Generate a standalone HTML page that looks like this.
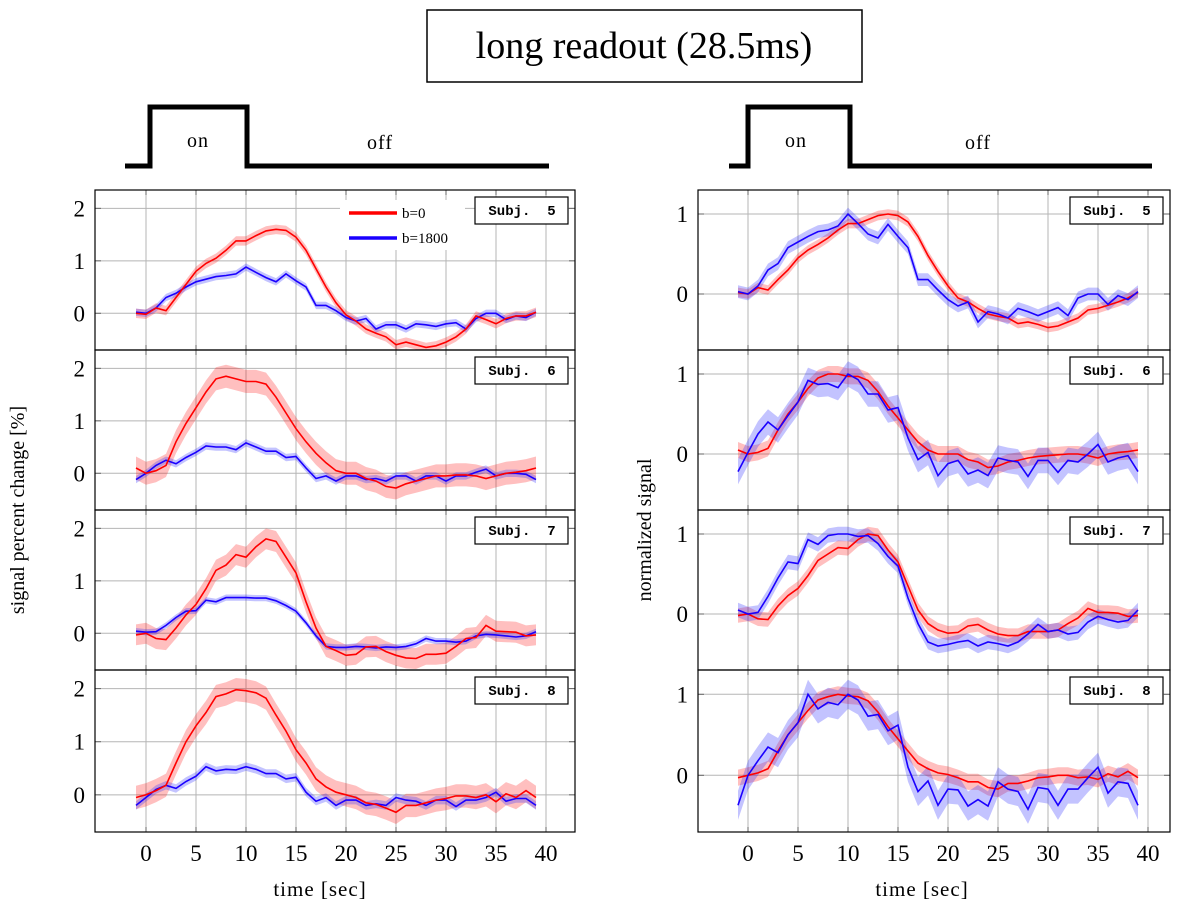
<!DOCTYPE html>
<html><head><meta charset="utf-8">
<style>
body{margin:0;background:#fff;width:1186px;height:905px;overflow:hidden;}
svg{display:block;font-family:"Liberation Serif",serif;}
</style></head>
<body>
<svg id="chart" width="1186" height="905" viewBox="0 0 1186 905">
<g>
<rect x="427" y="10" width="435" height="72" fill="#fff" stroke="#000" stroke-width="1.5"/>
<text x="644" y="58" font-size="38" text-anchor="middle">long readout (28.5ms)</text>
</g>
<g>
<polyline points="125,166 150,166 150,107 247,107 247,166 549,166" fill="none" stroke="#000" stroke-width="5"/>
<text x="198" y="147" font-size="20" text-anchor="middle" letter-spacing="1">on</text>
<text x="380" y="149" font-size="20" text-anchor="middle" letter-spacing="1">off</text>
</g>
<g>
<polyline points="729,166 748,166 748,107 850,107 850,166 1152,166" fill="none" stroke="#000" stroke-width="5"/>
<text x="796" y="147" font-size="20" text-anchor="middle" letter-spacing="1">on</text>
<text x="978" y="149" font-size="20" text-anchor="middle" letter-spacing="1">off</text>
</g>
<text transform="translate(24,510) rotate(-90)" font-size="20" text-anchor="middle">signal percent change [%]</text>
<text transform="translate(651,530) rotate(-90)" font-size="20" text-anchor="middle">normalized signal</text>
<text x="320" y="896" font-size="21" text-anchor="middle" letter-spacing="1">time [sec]</text>
<text x="922" y="896" font-size="21" text-anchor="middle" letter-spacing="1">time [sec]</text>
</svg>
<script>
const times = [];
for (let t = -1; t <= 39; t++) times.push(t);
const xTicks = [0,5,10,15,20,25,30,35,40];
const leftYTicks = [0,1,2];
const rightYTicks = [0,1];
const subjects = ["5","6","7","8"];

const L5r=[0,-0.02,0.1,0.05,0.3,0.55,0.8,0.95,1.05,1.2,1.38,1.38,1.48,1.57,1.6,1.58,1.45,1.2,0.85,0.5,0.2,-0.03,-0.15,-0.3,-0.38,-0.45,-0.6,-0.55,-0.6,-0.65,-0.62,-0.55,-0.45,-0.3,-0.05,-0.12,-0.2,-0.1,-0.05,-0.05,0.02];
const L5b=[0.02,0,0.1,0.3,0.38,0.5,0.6,0.65,0.7,0.72,0.75,0.88,0.78,0.68,0.6,0.75,0.62,0.5,0.15,0.15,0.05,-0.08,-0.15,-0.1,-0.3,-0.22,-0.22,-0.3,-0.2,-0.22,-0.25,-0.2,-0.18,-0.3,-0.1,0,0,-0.12,-0.05,-0.08,0.02];
const L6r=[0.1,0,0.05,0.15,0.6,0.95,1.25,1.55,1.8,1.85,1.8,1.75,1.75,1.7,1.45,1.15,0.85,0.6,0.38,0.2,0.05,0,0,-0.1,-0.15,-0.25,-0.28,-0.2,-0.15,-0.1,-0.05,-0.05,-0.03,-0.03,-0.05,-0.1,-0.05,0,0.02,0.05,0.1];
const L6b=[-0.12,0,0.15,0.25,0.18,0.3,0.4,0.52,0.5,0.5,0.45,0.58,0.5,0.42,0.42,0.3,0.32,0.1,-0.1,-0.05,-0.15,-0.05,-0.05,-0.12,-0.1,-0.15,-0.05,-0.05,-0.15,-0.05,-0.05,-0.15,-0.05,-0.05,0.02,0.08,-0.05,0,0,-0.02,-0.12];
const L7r=[-0.03,0,-0.1,-0.12,0.1,0.35,0.55,0.85,1.2,1.3,1.5,1.45,1.65,1.8,1.75,1.45,1.15,0.6,0.1,-0.25,-0.33,-0.42,-0.4,-0.26,-0.25,-0.35,-0.42,-0.47,-0.48,-0.4,-0.4,-0.38,-0.25,-0.1,-0.08,0.15,0.04,0.03,0.02,-0.05,-0.03];
const L7b=[0.04,0.02,0.03,0.15,0.3,0.42,0.43,0.63,0.6,0.68,0.68,0.68,0.67,0.67,0.62,0.53,0.42,0.2,-0.05,-0.25,-0.27,-0.27,-0.25,-0.26,-0.28,-0.26,-0.27,-0.25,-0.2,-0.1,-0.15,-0.15,-0.17,-0.15,-0.05,-0.02,-0.03,-0.05,-0.07,-0.05,0.03];
const L8r=[-0.05,0,0.08,0.18,0.6,1.0,1.3,1.55,1.85,1.9,1.98,1.96,1.92,1.82,1.5,1.2,0.85,0.6,0.3,0.15,0.05,0,-0.05,-0.15,-0.18,-0.25,-0.33,-0.2,-0.2,-0.15,-0.1,-0.07,-0.02,-0.02,-0.05,0,-0.13,0.02,-0.05,0.08,-0.05];
const L8b=[-0.2,-0.05,0.1,0.18,0.12,0.25,0.35,0.53,0.45,0.48,0.47,0.53,0.48,0.4,0.4,0.3,0.33,0.05,-0.12,-0.05,-0.2,-0.1,-0.1,-0.2,-0.17,-0.2,-0.05,-0.1,-0.12,-0.2,-0.1,-0.1,-0.22,-0.1,-0.1,-0.05,0.05,-0.12,-0.07,-0.07,-0.2];

const R5r=[0.02,0,0.08,0.05,0.18,0.3,0.45,0.55,0.62,0.7,0.8,0.88,0.88,0.93,0.98,1.0,0.98,0.9,0.72,0.48,0.28,0.1,-0.05,-0.1,-0.18,-0.25,-0.28,-0.3,-0.37,-0.35,-0.38,-0.42,-0.4,-0.35,-0.3,-0.2,-0.18,-0.14,-0.1,-0.05,0.02];
const R5b=[0.03,0,0.1,0.3,0.38,0.58,0.65,0.72,0.78,0.8,0.85,1.0,0.88,0.75,0.7,0.87,0.72,0.58,0.18,0.18,0.05,-0.07,-0.15,-0.1,-0.35,-0.22,-0.25,-0.3,-0.18,-0.22,-0.27,-0.22,-0.17,-0.27,-0.05,0,0,-0.13,-0.02,-0.07,0.03];
const R6r=[0.05,0,0.02,0.07,0.3,0.5,0.65,0.82,0.95,1.0,1.0,0.97,0.97,0.92,0.78,0.6,0.45,0.3,0.15,0.05,0,0,0,-0.07,-0.1,-0.17,-0.15,-0.1,-0.08,-0.05,-0.03,-0.02,-0.01,0,0,-0.02,-0.05,0,0.02,0.03,0.05];
const R6b=[-0.22,0.02,0.25,0.4,0.3,0.48,0.65,0.92,0.87,0.88,0.83,1.0,0.93,0.75,0.75,0.55,0.58,0.2,-0.07,0.02,-0.27,-0.12,-0.08,-0.25,-0.2,-0.27,-0.05,-0.08,-0.1,-0.28,-0.08,-0.08,-0.23,-0.08,-0.1,0,0.12,-0.1,-0.05,-0.02,-0.22];
const R7r=[-0.02,0,-0.06,-0.07,0.1,0.23,0.32,0.48,0.67,0.75,0.83,0.82,0.93,1.0,0.98,0.8,0.65,0.35,0.05,-0.12,-0.2,-0.24,-0.23,-0.15,-0.13,-0.2,-0.25,-0.27,-0.27,-0.22,-0.22,-0.22,-0.2,-0.12,-0.05,0.07,0.02,0.02,0.01,-0.03,-0.02];
const R7b=[0.05,0,0.02,0.22,0.45,0.65,0.63,0.93,0.87,0.98,1.0,1.0,0.97,0.98,0.88,0.72,0.6,0.2,-0.12,-0.35,-0.4,-0.38,-0.35,-0.33,-0.4,-0.35,-0.37,-0.4,-0.35,-0.25,-0.13,-0.22,-0.2,-0.25,-0.23,-0.1,-0.03,-0.07,-0.1,-0.08,0.05];
const R8r=[-0.03,0,0.03,0.08,0.3,0.5,0.65,0.8,0.93,0.97,1.0,0.98,0.97,0.92,0.78,0.6,0.45,0.3,0.15,0.08,0.03,0.01,-0.03,-0.08,-0.08,-0.15,-0.17,-0.1,-0.1,-0.07,-0.03,-0.02,0,0,-0.03,-0.02,-0.05,0.02,-0.02,0.05,-0.03];
const R8b=[-0.37,0,0.18,0.35,0.28,0.5,0.65,1.0,0.82,0.9,0.87,1.0,0.93,0.73,0.75,0.55,0.62,0.1,-0.2,-0.07,-0.37,-0.17,-0.18,-0.38,-0.3,-0.38,-0.08,-0.17,-0.2,-0.42,-0.15,-0.17,-0.37,-0.17,-0.17,-0.03,0.1,-0.22,-0.08,-0.1,-0.37];

const leftRedErr=[0.09,0.22,0.2,0.22];
const leftBlueErr=[0.07,0.07,0.06,0.08];
const rightRedErr=[0.06,0.1,0.09,0.1];
const rightBlueErr=[0.08,0.16,0.09,0.18];

const leftRed=[L5r,L6r,L7r,L8r], leftBlue=[L5b,L6b,L7b,L8b];
const rightRed=[R5r,R6r,R7r,R8r], rightBlue=[R5b,R6b,R7b,R8b];

const NS="http://www.w3.org/2000/svg";
const svg=document.getElementById('chart');
function mk(tag,attrs,parent){const e=document.createElementNS(NS,tag);for(const k in attrs)e.setAttribute(k,attrs[k]);(parent||svg).appendChild(e);return e;}
const panelTops=[190,350,510,670,832];

function drawColumn(side,x0,x1,x0px,yMin,yMax,yTicks,reds,blues,rErr,bErr){
  const xs=t=>x0px+t*10;
  for(let i=0;i<4;i++){
    const top=panelTops[i], bot=panelTops[i+1];
    const ys=v=>bot-(v-yMin)/(yMax-yMin)*(bot-top);
    const g=mk('g',{});
    
    
    const cid='clip-'+side+i;
    const cp=mk('clipPath',{id:cid},g);
    mk('rect',{x:x0,y:top,width:x1-x0,height:bot-top},cp);
    xTicks.forEach(t=>{
      const l=mk('line',{x1:xs(t),x2:xs(t),y1:top,y2:bot,stroke:'#b5b5b5','stroke-width':1},g);
      
      
      mk('line',{x1:xs(t),x2:xs(t),y1:top,y2:top+5,stroke:'#666','stroke-width':1},g);
      mk('line',{x1:xs(t),x2:xs(t),y1:bot-5,y2:bot,stroke:'#666','stroke-width':1},g);
    });
    yTicks.forEach(v=>{
      const l=mk('line',{x1:x0,x2:x1,y1:ys(v),y2:ys(v),stroke:'#b5b5b5','stroke-width':1},g);
      
      
      mk('line',{x1:x0,x2:x0+6,y1:ys(v),y2:ys(v),stroke:'#666'},g);
      mk('line',{x1:x1-6,x2:x1,y1:ys(v),y2:ys(v),stroke:'#666'},g);
      const tl=mk('text',{x:x0-10,y:ys(v)+8,'font-size':23,'text-anchor':'end'},g);
      tl.textContent=String(v);
      
      
    });
    const series=[[reds[i],rErr[i],'#ff0000','rgba(255,0,0,0.25)','red'],[blues[i],bErr[i],'#1a00ff','rgba(40,40,255,0.28)','blue']];
    const order=side==='left'?[1,0]:[0,1];
    const dg=mk('g',{'clip-path':'url(#'+cid+')'},g);
    series.forEach(([vals,err,,fill,nm])=>{
      let d='';
      vals.forEach((v,k)=>{d+=(k?'L':'M')+xs(times[k]).toFixed(1)+','+ys(v+err).toFixed(1);});
      for(let k=vals.length-1;k>=0;k--)d+='L'+xs(times[k]).toFixed(1)+','+ys(vals[k]-err).toFixed(1);
      const p=mk('path',{d:d+'Z',fill:fill,stroke:'none'},dg);
      
      
    });
    order.forEach(j=>{
      const [vals,,col,,nm]=series[j];
      const pts=vals.map((v,k)=>xs(times[k]).toFixed(1)+','+ys(v).toFixed(1)).join(' ');
      const pl=mk('polyline',{points:pts,fill:'none',stroke:col,'stroke-width':1.6},dg);
      
      
    });
    const fr=mk('rect',{x:x0,y:top,width:x1-x0,height:bot-top,fill:'none',stroke:'#000','stroke-width':1.2},g);
    
    
    const lb=mk('g',{},g);
    
    
    mk('rect',{x:x1-100,y:top+7,width:93,height:27,fill:'#fff',stroke:'#000','stroke-width':1.2},lb);
    const tx=mk('text',{x:x1-53,y:top+25,'font-size':14,'text-anchor':'middle','font-family':'Liberation Mono, monospace','font-weight':'bold'},lb);
    tx.textContent='Subj.  '+subjects[i];
    tx.setAttribute('xml:space','preserve');
    tx.style.whiteSpace='pre';
  }
  xTicks.forEach(t=>{
    const tl=mk('text',{x:xs(t),y:861,'font-size':23,'text-anchor':'middle'});
    tl.textContent=String(t);
    
    
  });
}
drawColumn('left',95,575,146,-0.7,2.35,leftYTicks,leftRed,leftBlue,leftRedErr,leftBlueErr);
drawColumn('right',698,1170,748,-0.7,1.3,rightYTicks,rightRed,rightBlue,rightRedErr,rightBlueErr);

const lg=mk('g',{});


mk('rect',{x:340,y:200,width:125,height:50,fill:'#fff',stroke:'none'},lg);
const e1=mk('line',{x1:349,x2:397,y1:213,y2:213,stroke:'#ff0000','stroke-width':3.5},lg);


const t1=mk('text',{x:402,y:218,'font-size':15},lg);t1.textContent='b=0';
const e2=mk('line',{x1:349,x2:397,y1:238,y2:238,stroke:'#1a00ff','stroke-width':3.5},lg);


const t2=mk('text',{x:402,y:243,'font-size':15},lg);t2.textContent='b=1800';
</script>
</body></html>
